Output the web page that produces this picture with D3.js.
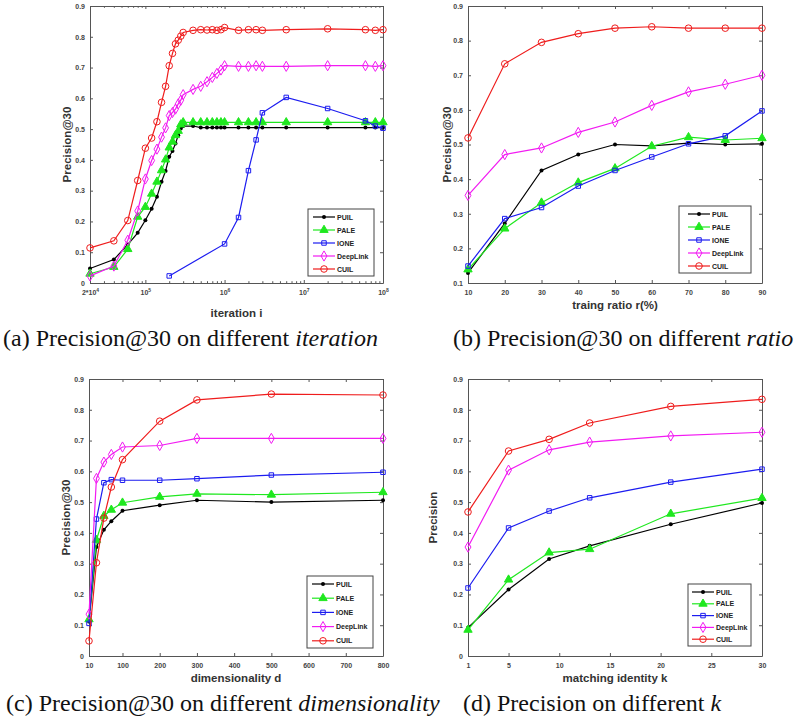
<!DOCTYPE html>
<html>
<head>
<meta charset="utf-8">
<script src="https://cdn.jsdelivr.net/npm/d3@7"></script>
<style>
body { margin: 0; background: #fff; }
svg text { font-family: "Liberation Sans", Arial, sans-serif; }
.tick text { font-size: 7px; font-weight: bold; fill: #444; }
.tick line { stroke: #555; }
.domain { stroke: #555; }
</style>
</head>
<body>
<svg id="fig" width="795" height="728"></svg>
<script>
// methods shared by all four panels
var methods = ["PUIL", "PALE", "IONE", "DeepLink", "CUIL"];
var colors = ["#000000", "#1fe81f", "#1c1cf0", "#f21bf2", "#ef1c1c"];

// (a) precision@30 vs iteration
var iterX = [2e4, 4e4, 6e4, 8e4, 1e5, 1.2e5, 1.4e5, 1.6e5, 1.8e5, 2e5, 2.2e5, 2.4e5, 2.6e5, 2.8e5, 3e5,
             4e5, 5e5, 6e5, 7e5, 8e5, 9e5, 1e6, 1.5e6, 2e6, 2.5e6, 3e6, 6e6, 2e7, 6e7, 8e7, 1e8];
var iterPUIL = [0.047, 0.076, 0.125, 0.163, 0.204, 0.241, 0.280, 0.329, 0.364, 0.410, 0.429, 0.453, 0.480, 0.502, 0.510,
                0.510, 0.505, 0.505, 0.505, 0.505, 0.505, 0.505, 0.505, 0.505, 0.505, 0.505, 0.505, 0.505, 0.505, 0.505, 0.505];
var iterPALE = [0.030, 0.052, 0.110, 0.215, 0.247, 0.290, 0.329, 0.366, 0.401, 0.440, 0.459, 0.480, 0.494, 0.515, 0.522,
                0.522, 0.522, 0.522, 0.522, 0.522, 0.522, 0.522, 0.522, 0.522, 0.522, 0.522, 0.522, 0.522, 0.522, 0.522, 0.522];
var iterIONEX = [2e5, 1e6, 1.5e6, 2e6, 2.5e6, 3e6, 6e6, 2e7, 6e7, 8e7, 1e8];
var iterIONE = [0.023, 0.127, 0.213, 0.365, 0.465, 0.553, 0.603, 0.567, 0.527, 0.510, 0.503];
var iterDeepLink = [0.023, 0.055, 0.139, 0.234, 0.338, 0.398, 0.435, 0.474, 0.504, 0.544, 0.554, 0.565, 0.582, 0.594, 0.612,
                    0.629, 0.639, 0.654, 0.668, 0.681, 0.692, 0.706, 0.704, 0.704, 0.706, 0.704, 0.704, 0.706, 0.706, 0.704, 0.706];
var iterCUIL = [0.114, 0.137, 0.203, 0.333, 0.438, 0.471, 0.524, 0.587, 0.639, 0.706, 0.746, 0.777, 0.789, 0.802, 0.814,
                0.821, 0.823, 0.822, 0.823, 0.821, 0.823, 0.830, 0.821, 0.823, 0.823, 0.821, 0.823, 0.826, 0.823, 0.821, 0.823];
var iterTicks = [2e4, 1e5, 1e6, 1e7, 1e8];

// (b) precision@30 vs training ratio
var ratioX = [10, 20, 30, 40, 50, 60, 70, 80, 90];
var ratioPUIL = [0.129, 0.272, 0.425, 0.471, 0.500, 0.496, 0.504, 0.500, 0.502];
var ratioPALE = [0.139, 0.257, 0.332, 0.390, 0.431, 0.495, 0.521, 0.513, 0.518];
var ratioIONE = [0.149, 0.286, 0.318, 0.380, 0.425, 0.464, 0.502, 0.525, 0.597];
var ratioDeepLink = [0.353, 0.471, 0.490, 0.535, 0.565, 0.613, 0.652, 0.674, 0.700];
var ratioCUIL = [0.519, 0.733, 0.795, 0.820, 0.836, 0.840, 0.836, 0.836, 0.836];
var ratioTicks = [10, 20, 30, 40, 50, 60, 70, 80, 90];

// (c) precision@30 vs dimensionality
var dimX = [10, 30, 50, 70, 100, 200, 300, 500, 800];
var dimPUIL = [0.112, 0.354, 0.410, 0.438, 0.472, 0.490, 0.506, 0.500, 0.506];
var dimPALE = [0.119, 0.377, 0.455, 0.475, 0.498, 0.517, 0.527, 0.524, 0.532];
var dimIONE = [0.106, 0.445, 0.563, 0.573, 0.571, 0.571, 0.576, 0.588, 0.597];
var dimDeepLink = [0.136, 0.577, 0.630, 0.655, 0.679, 0.684, 0.707, 0.707, 0.707];
var dimCUIL = [0.049, 0.303, 0.448, 0.549, 0.638, 0.763, 0.832, 0.851, 0.848];
var dimTicks = [10, 100, 200, 300, 400, 500, 600, 700, 800];

// (d) precision vs matching identity k
var kX = [1, 5, 9, 13, 21, 30];
var kPUIL = [0.092, 0.216, 0.315, 0.358, 0.428, 0.497];
var kPALE = [0.085, 0.248, 0.336, 0.347, 0.462, 0.513];
var kIONE = [0.221, 0.416, 0.471, 0.514, 0.565, 0.607];
var kDeepLink = [0.354, 0.604, 0.670, 0.695, 0.715, 0.727];
var kCUIL = [0.468, 0.666, 0.704, 0.757, 0.811, 0.834];
var kTicks = [1, 5, 10, 15, 20, 25, 30];

var yTicksFull = [0, 0.1, 0.2, 0.3, 0.4, 0.5, 0.6, 0.7, 0.8, 0.9];
var yTicksB = [0.1, 0.2, 0.3, 0.4, 0.5, 0.6, 0.7, 0.8, 0.9];

var svg = d3.select("#fig");
svg.append("rect").attr("width", 795).attr("height", 728).attr("fill", "#fff");

var panels = [
  { left: 90, right: 383, top: 6, bottom: 283, log: true,
    xDomain: [2e4, 1e8], xTicks: iterTicks, yDomain: [0, 0.9], yTicks: yTicksFull,
    series: [[iterX, iterPUIL], [iterX, iterPALE], [iterIONEX, iterIONE], [iterX, iterDeepLink], [iterX, iterCUIL]],
    xLabel: "iteration i", xLabelY: 317, yLabel: "Precision@30", yLabelX: 71,
    legend: { x: 308, y: 209, w: 66, h: 67, row0: 217, step: 13, l0: 313, l1: 335 },
    caption: ["(a) Precision@30 on different ", "iteration"], capX: 3, capY: 346 },
  { left: 468, right: 762, top: 6, bottom: 283, log: false,
    xDomain: [10, 90], xTicks: ratioTicks, yDomain: [0.1, 0.9], yTicks: yTicksB,
    series: [[ratioX, ratioPUIL], [ratioX, ratioPALE], [ratioX, ratioIONE], [ratioX, ratioDeepLink], [ratioX, ratioCUIL]],
    xLabel: "traing ratio r(%)", xLabelY: 309, yLabel: "Precision@30", yLabelX: 451,
    legend: { x: 679, y: 206, w: 72, h: 67, row0: 214, step: 13, l0: 688, l1: 710 },
    caption: ["(b) Precision@30 on different ", "ratio"], capX: 453, capY: 346 },
  { left: 89, right: 383, top: 379, bottom: 656, log: false,
    xDomain: [10, 800], xTicks: dimTicks, yDomain: [0, 0.9], yTicks: yTicksFull,
    series: [[dimX, dimPUIL], [dimX, dimPALE], [dimX, dimIONE], [dimX, dimDeepLink], [dimX, dimCUIL]],
    xLabel: "dimensionality d", xLabelY: 682, yLabel: "Precision@30", yLabelX: 70,
    legend: { x: 307, y: 576, w: 66, h: 72, row0: 584, step: 14.2, l0: 312, l1: 334 },
    caption: ["(c) Precision@30 on different ", "dimensionality"], capX: 6, capY: 711 },
  { left: 468, right: 762, top: 379, bottom: 656, log: false,
    xDomain: [1, 30], xTicks: kTicks, yDomain: [0, 0.9], yTicks: yTicksFull,
    series: [[kX, kPUIL], [kX, kPALE], [kX, kIONE], [kX, kDeepLink], [kX, kCUIL]],
    xLabel: "matching identity k", xLabelY: 682, yLabel: "Precision", yLabelX: 437,
    legend: { x: 688, y: 584, w: 63, h: 62, row0: 592, step: 11.8, l0: 692, l1: 714 },
    caption: ["(d) Precision on different ", "k"], capX: 463, capY: 711 }
];

// marker per method, MATLAB style
function marker(g, i, cx, cy) {
  var c = colors[i];
  if (i === 0) {
    g.append("circle").attr("cx", cx).attr("cy", cy).attr("r", 2).attr("fill", c);
  } else if (i === 4) {
    g.append("circle").attr("cx", cx).attr("cy", cy).attr("r", 3.3)
      .attr("fill", "none").attr("stroke", c).attr("stroke-width", 1);
  } else {
    var type = i === 1 ? d3.symbolTriangle : (i === 2 ? d3.symbolSquare : d3.symbolDiamond);
    var size = i === 1 ? 30 : (i === 2 ? 20 : 30);
    g.append("path")
      .attr("d", d3.symbol().type(type).size(size)())
      .attr("transform", "translate(" + cx + "," + cy + ")")
      .attr("fill", i === 1 ? c : "none")
      .attr("stroke", c).attr("stroke-width", 1);
  }
}

function drawPanel(p) {
  var g = svg.append("g");
  var x = (p.log ? d3.scaleLog() : d3.scaleLinear()).domain(p.xDomain).range([p.left, p.right]);
  var y = d3.scaleLinear().domain(p.yDomain).range([p.bottom, p.top]);

  // minor ticks on the log axis
  var minor = [];
  if (p.log) {
    for (var e = 4; e < 8; e++) {
      for (var m = 2; m <= 9; m++) {
        var v = m * Math.pow(10, e);
        if (v > p.xDomain[0] && v < p.xDomain[1]) minor.push(v);
      }
    }
  }

  var xb = g.append("g").attr("transform", "translate(0," + p.bottom + ")")
    .call(d3.axisBottom(x).tickValues(p.xTicks).tickSize(-3).tickPadding(7).tickSizeOuter(0));
  g.append("g").attr("transform", "translate(0," + p.top + ")")
    .call(d3.axisTop(x).tickValues(p.xTicks).tickSize(-3).tickSizeOuter(0).tickFormat(""));
  if (p.log) {
    g.append("g").attr("transform", "translate(0," + p.bottom + ")")
      .call(d3.axisBottom(x).tickValues(minor).tickSize(-1.8).tickSizeOuter(0).tickFormat(""))
      .select(".domain").remove();
    g.append("g").attr("transform", "translate(0," + p.top + ")")
      .call(d3.axisTop(x).tickValues(minor).tickSize(-1.8).tickSizeOuter(0).tickFormat(""))
      .select(".domain").remove();
    // 2*10^4 , 10^5 ... with superscripts
    xb.selectAll(".tick text").each(function (d) {
      var ex = Math.floor(Math.log10(d) + 1e-9);
      var mant = Math.round(d / Math.pow(10, ex));
      var t = d3.select(this).text("");
      t.append("tspan").text(mant > 1 ? mant + "*10" : "10");
      t.append("tspan").attr("dy", "-0.5em").attr("font-size", "5px").text(ex);
    });
  }
  g.append("g").attr("transform", "translate(" + p.left + ",0)")
    .call(d3.axisLeft(y).tickValues(p.yTicks).tickSize(-3).tickPadding(5).tickSizeOuter(0)
      .tickFormat(function (d) { return d3.format("")(+d.toFixed(1)); }));
  g.append("g").attr("transform", "translate(" + p.right + ",0)")
    .call(d3.axisRight(y).tickValues(p.yTicks).tickSize(-3).tickSizeOuter(0).tickFormat(""));

  // series
  var line = d3.line().x(function (d) { return x(d[0]); }).y(function (d) { return y(d[1]); });
  p.series.forEach(function (s, i) {
    var pts = d3.zip(s[0], s[1]);
    g.append("path").datum(pts).attr("d", line)
      .attr("fill", "none").attr("stroke", colors[i]).attr("stroke-width", 1.2);
    pts.forEach(function (d) { marker(g, i, x(d[0]), y(d[1])); });
  });

  // axis labels
  g.append("text").attr("x", (p.left + p.right) / 2).attr("y", p.xLabelY)
    .attr("text-anchor", "middle").attr("font-size", "11.5px").attr("font-weight", "bold")
    .attr("fill", "#333").text(p.xLabel);
  g.append("text")
    .attr("transform", "translate(" + p.yLabelX + "," + (p.top + p.bottom) / 2 + ") rotate(-90)")
    .attr("text-anchor", "middle").attr("font-size", "11.5px").attr("font-weight", "bold")
    .attr("fill", "#333").text(p.yLabel);

  // legend
  var L = p.legend;
  var lg = g.append("g");
  lg.append("rect").attr("x", L.x).attr("y", L.y).attr("width", L.w).attr("height", L.h)
    .attr("fill", "#fff").attr("stroke", "#444").attr("stroke-width", 1);
  methods.forEach(function (name, i) {
    var ry = L.row0 + i * L.step;
    lg.append("line").attr("x1", L.l0).attr("x2", L.l1).attr("y1", ry).attr("y2", ry)
      .attr("stroke", colors[i]).attr("stroke-width", 1.2);
    marker(lg, i, (L.l0 + L.l1) / 2, ry);
    lg.append("text").attr("x", L.l1 + 2).attr("y", ry + 2.5)
      .attr("font-size", "7px").attr("font-weight", "bold").attr("fill", "#222").text(name);
  });

  // caption
  var cap = svg.append("text").attr("x", p.capX).attr("y", p.capY)
    .attr("font-size", "24px").attr("fill", "#111")
    .style("font-family", "'Liberation Serif', 'Times New Roman', serif");
  cap.append("tspan").text(p.caption[0]);
  cap.append("tspan").attr("font-style", "italic").text(p.caption[1]);
}

panels.forEach(drawPanel);
</script>
</body>
</html>
